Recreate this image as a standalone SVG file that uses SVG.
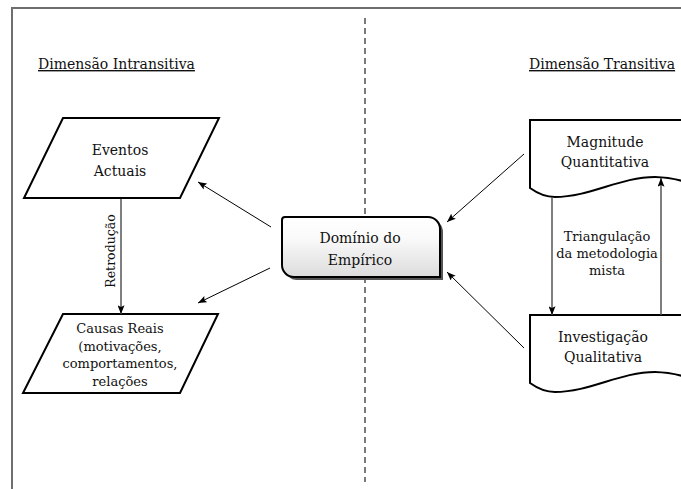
<svg xmlns="http://www.w3.org/2000/svg" width="681" height="489" viewBox="0 0 681 489">
  <style>
    text { font-family: "DejaVu Serif", "Liberation Serif", serif; fill: #111111; }
    .lbl { font-size: 14px; }
    .sm { font-size: 13px; }
    .title { font-size: 14px; text-decoration: underline; }
    .shape { fill: #ffffff; stroke: #000000; stroke-width: 2; stroke-linejoin: miter; }
    .link { stroke: #000000; stroke-width: 1; fill: none; marker-end: url(#arrow); }
    .flow { stroke: #555555; stroke-width: 1.5; fill: none; marker-end: url(#arrow); }
    .divider { stroke: #333333; stroke-width: 1.3; stroke-dasharray: 6 4; fill: none; }
  </style>
  <defs>
    <marker id="arrow" viewBox="0 0 10 8" refX="10" refY="4" markerWidth="9" markerHeight="7" markerUnits="userSpaceOnUse" orient="auto">
      <path d="M0,0 L10,4 L0,8 L2,4 z" fill="#000000"/>
    </marker>
    <linearGradient id="boxFill" x1="0" y1="0" x2="0" y2="1">
      <stop offset="0" stop-color="#ffffff"/>
      <stop offset="0.35" stop-color="#fafafa"/>
      <stop offset="1" stop-color="#dcdcdc"/>
    </linearGradient>
  </defs>

  <rect x="0" y="0" width="681" height="489" fill="#ffffff"/>

  <!-- page frame -->
  <path d="M12,489 V8 H681" fill="none" stroke="#6e6e6e" stroke-width="2"/>

  <!-- section headings -->
  <text class="title" x="38" y="69">Dimensão Intransitiva</text>
  <text class="title" x="529" y="69">Dimensão Transitiva</text>

  <!-- divider between dimensions -->
  <path class="divider" d="M365,18 V217 M365,277 V482"/>

  <g id="eventos">
    <polygon class="shape" points="63,118 219,118 180,198 24,198"/>
    <text class="lbl" text-anchor="middle" x="120" y="155">Eventos</text>
    <text class="lbl" text-anchor="middle" x="120" y="176">Actuais</text>
  </g>

  <g id="causas">
    <polygon class="shape" points="63,314 218,314 180,393 23,393"/>
    <text class="sm" text-anchor="middle" x="120" y="333">Causas Reais</text>
    <text class="sm" text-anchor="middle" x="120" y="351">(motivações,</text>
    <text class="sm" text-anchor="middle" x="120" y="368">comportamentos,</text>
    <text class="sm" text-anchor="middle" x="120" y="386">relações</text>
  </g>

  <g id="dominio">
    <path d="M288,220 H431 A12,12 0 0 1 443,232 V280 H297 A12,12 0 0 1 285,268 V223 Q285,220 288,220 Z" fill="#555555"/>
    <path d="M285,217 H428 A12,12 0 0 1 440,229 V277 H294 A12,12 0 0 1 282,265 V220 Q282,217 285,217 Z" fill="url(#boxFill)" stroke="#000000" stroke-width="2"/>
    <text class="lbl" text-anchor="middle" x="360" y="243">Domínio do</text>
    <text class="lbl" text-anchor="middle" x="360" y="265">Empírico</text>
  </g>

  <g id="magnitude">
    <path class="shape" d="M530,120 H700 V188 C690,183 675,177 655,177 C620,177 590,197 555,197 C545,197 537,193 530,188 Z"/>
    <text class="lbl" text-anchor="middle" x="605" y="147">Magnitude</text>
    <text class="lbl" text-anchor="middle" x="605" y="167">Quantitativa</text>
  </g>

  <g id="investigacao">
    <path class="shape" d="M530,315 H700 V383 C690,378 675,372 655,372 C620,372 590,392 555,392 C545,392 537,388 530,383 Z"/>
    <text class="lbl" text-anchor="middle" x="603" y="342">Investigação</text>
    <text class="lbl" text-anchor="middle" x="603" y="362">Qualitativa</text>
  </g>

  <g id="connectors">
    <line class="flow" x1="121" y1="199" x2="121" y2="314"/>
    <text class="sm" style="font-size:12.5px" text-anchor="middle" transform="translate(115,251) rotate(-90)">Retrodução</text>

    <line class="link" x1="271" y1="227" x2="198" y2="182"/>
    <line class="link" x1="270" y1="268" x2="198" y2="303"/>
    <line class="link" x1="524" y1="154" x2="447" y2="222"/>
    <line class="link" x1="524" y1="348" x2="447" y2="272"/>

    <line class="flow" x1="552" y1="197" x2="552" y2="315"/>
    <line class="flow" x1="661" y1="315" x2="661" y2="178"/>
    <text class="sm" text-anchor="middle" x="607" y="241">Triangulação</text>
    <text class="sm" text-anchor="middle" x="607" y="258">da metodologia</text>
    <text class="sm" text-anchor="middle" x="607" y="275">mista</text>
  </g>
</svg>
